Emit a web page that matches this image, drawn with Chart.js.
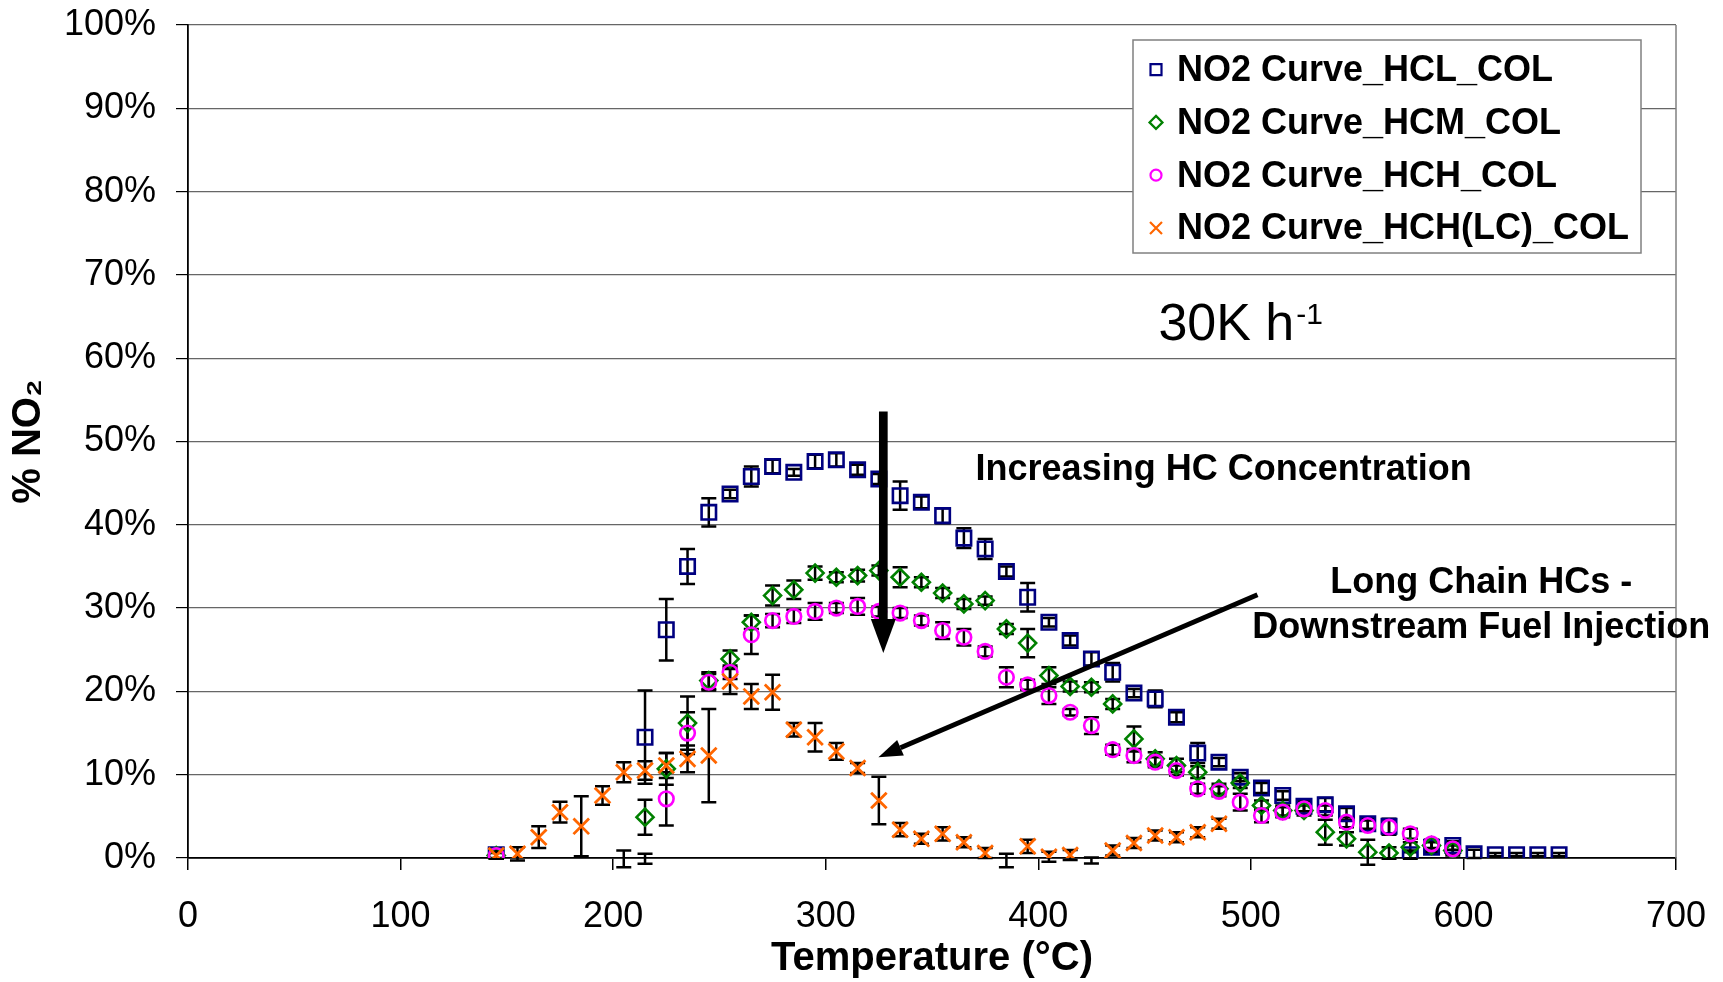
<!DOCTYPE html>
<html lang="en">
<head>
<meta charset="UTF-8">
<title>NO2 Curves</title>
<style>
  html, body { margin: 0; padding: 0; background: #fff; }
  canvas { display: block; }
</style>
</head>
<body>
<canvas id="grafico" width="1723" height="982"></canvas>
<script src="https://cdn.jsdelivr.net/npm/chart.js"></script>
<script>
// temperaturas (oC)
const temperaturas = [145, 155, 165, 175, 185, 195, 205, 215, 225, 235,
  245, 255, 265, 275, 285, 295, 305, 315, 325, 335,
  345, 355, 365, 375, 385, 395, 405, 415, 425, 435,
  445, 455, 465, 475, 485, 495, 505, 515, 525, 535,
  545, 555, 565, 575, 585, 595, 605, 615, 625, 635,
  645]

// % NO2 por serie
const hcl = [0.4, null, null, null, null, null, -0.1, 14.5, 27.4, 35.0,
  41.5, 43.7, 45.8, 47.0, 46.3, 47.6, 47.8, 46.6, 45.5, 43.5,
  42.7, 41.1, 38.4, 37.1, 34.4, 31.3, 28.3, 26.1, 23.9, 22.3,
  19.8, 19.1, 16.9, 12.6, 11.5, 9.7, 8.4, 7.5, 6.2, 6.4,
  5.3, 4.1, 3.8, 0.4, 1.3, 1.5, 0.5, 0.4, 0.4, 0.4,
  0.4]
const hclErr = [0.5, null, null, null, null, null, 1.0, 5.6, 3.7, 2.1,
  1.7, 0.5, 1.2, 0.8, 0.4, 0.8, 0.8, 0.6, 0.6, 1.7,
  0.7, 0.9, 1.2, 1.2, 0.6, 1.7, 0.5, 0.6, 0.8, 1.1,
  0.5, 1.0, 0.6, 1.2, 0.5, 0.5, 0.6, 0.5, 0.6, 0.8,
  0.7, 0.6, 0.9, 0.5, 0.6, 0.5, 0.5, 0.2, 0.2, 0.2,
  0.2]

const hcm = [0.3, null, null, null, null, null, null, 4.9, 10.7, 16.2,
  21.3, 23.9, 28.3, 31.5, 32.2, 34.2, 33.7, 33.9, 34.5, 33.7,
  33.1, 31.8, 30.5, 30.9, 27.5, 25.8, 21.9, 20.6, 20.5, 18.5,
  14.3, 11.9, 11.1, 10.3, 8.3, 9.0, 6.3, 5.7, 5.7, 3.1,
  2.3, 0.7, 0.6, 1.3, 1.5, 0.9, null, null, null, null,
  null]
const hcmErr = [0.4, null, null, null, null, null, null, 2.1, 1.9, 3.2,
  1.0, 1.0, 0.8, 1.2, 1.1, 0.8, 0.6, 0.7, 0.6, 1.2,
  0.6, 0.6, 0.6, 0.5, 0.6, 1.7, 1.0, 0.6, 0.6, 0.6,
  1.5, 0.8, 0.8, 0.7, 0.6, 0.6, 0.6, 0.6, 0.6, 1.5,
  0.8, 1.5, 0.7, 0.6, 0.6, 0.6, null, null, null, null,
  null]

const hch = [0.3, null, null, null, null, null, null, -0.1, 7.1, 15.0,
  21.1, 22.3, 26.8, 28.5, 29.0, 29.6, 30.0, 30.2, 29.6, 29.4,
  28.5, 27.3, 26.5, 24.8, 21.7, 20.8, 19.5, 17.5, 15.9, 13.0,
  12.3, 11.5, 10.5, 8.3, 8.0, 6.7, 5.1, 5.5, 5.9, 5.7,
  4.3, 3.9, 3.7, 2.9, 1.7, 1.1, null, null, null, null,
  null]
const hchErr = [0.3, null, null, null, null, null, null, 0.6, 3.2, 2.5,
  1.0, 0.8, 2.3, 0.8, 0.8, 1.0, 0.6, 1.0, 0.6, 0.6,
  0.6, 1.0, 1.0, 0.6, 1.2, 0.6, 1.0, 0.4, 1.0, 0.6,
  0.8, 0.6, 0.6, 0.6, 0.6, 1.0, 0.8, 0.6, 0.6, 0.6,
  0.6, 0.6, 0.9, 0.6, 0.5, 0.6, null, null, null, null,
  null]

const hchLc = [0.3, 0.5, 2.5, 5.5, 3.8, 7.5, 10.3, 10.5, 11.1, 11.9,
  12.3, 21.2, 19.4, 19.9, 15.4, 14.5, 12.8, 10.8, 6.9, 3.4,
  2.3, 2.9, 1.9, 0.6, -0.3, 1.4, 0.15, 0.35, -0.3, 0.9,
  1.8, 2.7, 2.5, 3.1, 4.1, null, null, null, null, null,
  null, null, null, null, null, null, null, null, null, null,
  null]
const hchLcErr = [0.4, 0.8, 1.3, 1.25, 3.6, 1.1, 1.2, 1.1, 1.5, 1.6,
  5.6, 1.5, 1.5, 2.1, 0.8, 1.7, 1.0, 0.6, 2.85, 0.8,
  0.6, 0.8, 0.6, 0.6, 0.8, 0.8, 0.6, 0.6, 0.35, 0.6,
  0.6, 0.6, 0.6, 0.6, 0.6, null, null, null, null, null,
  null, null, null, null, null, null, null, null, null, null,
  null]

const xTicks = [0, 100, 200, 300, 400, 500, 600, 700]
const yTicks = [0, 10, 20, 30, 40, 50, 60, 70, 80, 90, 100]

const fonte = 'Liberation Sans, Arial, sans-serif'
Chart.defaults.font.family = fonte
Chart.defaults.color = '#000'

const pontos = (vals, errs) => temperaturas
  .map((t, i) => ({ x: t, y: vals[i], err: errs[i] }))
  .filter(p => p.y !== null)

// marcador escondido quando o valor fica abaixo do eixo
const raio = r => ctx => (ctx.raw && ctx.raw.y < 0) ? 0 : r

const series = [
  { label: 'NO2 Curve_HCL_COL', data: pontos(hcl, hclErr), cor: '#000080', estilo: 'rect', r: 10.2, ordem: 3 },
  { label: 'NO2 Curve_HCM_COL', data: pontos(hcm, hcmErr), cor: '#008000', estilo: 'rectRot', r: 8.5, ordem: 2 },
  { label: 'NO2 Curve_HCH_COL', data: pontos(hch, hchErr), cor: '#FF00FF', estilo: 'circle', r: 7.3, ordem: 1 },
  { label: 'NO2 Curve_HCH(LC)_COL', data: pontos(hchLc, hchLcErr), cor: '#FF6600', estilo: 'crossRot', r: 11, ordem: 0 }
]

const barrasErro = {
  id: 'barrasErro',
  beforeDatasetsDraw(chart) {
    const { ctx, scales: { x, y } } = chart
    ctx.save()
    ctx.strokeStyle = '#000'
    ctx.lineWidth = 2.5
    chart.data.datasets.forEach(ds => {
      ds.data.forEach(p => {
        if (p.err == null) return
        const px = x.getPixelForValue(p.x)
        const topo = y.getPixelForValue(p.y + p.err)
        const base = y.getPixelForValue(p.y - p.err)
        ctx.beginPath()
        ctx.moveTo(px, topo); ctx.lineTo(px, base)
        ctx.moveTo(px - 7.5, topo); ctx.lineTo(px + 7.5, topo)
        ctx.moveTo(px - 7.5, base); ctx.lineTo(px + 7.5, base)
        ctx.stroke()
      })
    })
    ctx.restore()
  }
}

function seta(ctx, x1, y1, x2, y2, largura, cabeca, abertura) {
  const ang = Math.atan2(y2 - y1, x2 - x1)
  const bx = x2 - Math.cos(ang) * cabeca
  const by = y2 - Math.sin(ang) * cabeca
  ctx.lineWidth = largura
  ctx.beginPath()
  ctx.moveTo(x1, y1)
  ctx.lineTo(bx, by)
  ctx.stroke()
  ctx.beginPath()
  ctx.moveTo(x2, y2)
  ctx.lineTo(bx + Math.sin(ang) * abertura / 2, by - Math.cos(ang) * abertura / 2)
  ctx.lineTo(bx - Math.sin(ang) * abertura / 2, by + Math.cos(ang) * abertura / 2)
  ctx.closePath()
  ctx.fill()
}

function marcador(ctx, estilo, x, y) {
  ctx.beginPath()
  if (estilo === 'rect') {
    ctx.rect(x - 5.5, y - 5.5, 11, 11)
  } else if (estilo === 'rectRot') {
    ctx.moveTo(x, y - 6.5); ctx.lineTo(x + 6.5, y); ctx.lineTo(x, y + 6.5); ctx.lineTo(x - 6.5, y); ctx.closePath()
  } else if (estilo === 'circle') {
    ctx.arc(x, y, 5.5, 0, Math.PI * 2)
  } else {
    ctx.moveTo(x - 6, y - 6); ctx.lineTo(x + 6, y + 6)
    ctx.moveTo(x + 6, y - 6); ctx.lineTo(x - 6, y + 6)
  }
  ctx.stroke()
}

const anotacoes = {
  id: 'anotacoes',
  afterDatasetsDraw(chart) {
    const { ctx, chartArea: a, scales: { x, y } } = chart
    ctx.save()

    // borda direita da area do grafico
    ctx.strokeStyle = '#808080'
    ctx.lineWidth = 1.5
    ctx.beginPath()
    ctx.moveTo(a.right, a.top)
    ctx.lineTo(a.right, a.bottom)
    ctx.stroke()

    // setas
    ctx.strokeStyle = '#000'
    ctx.fillStyle = '#000'
    seta(ctx, x.getPixelForValue(327.1), y.getPixelForValue(53.6),
      x.getPixelForValue(327.1), y.getPixelForValue(24.6), 8.7, 34, 25)
    seta(ctx, x.getPixelForValue(503.1), y.getPixelForValue(31.6),
      x.getPixelForValue(324.8), y.getPixelForValue(12.1), 5, 24, 17)

    // textos
    ctx.fillStyle = '#000'
    ctx.textBaseline = 'alphabetic'
    ctx.font = 'bold 36px ' + fonte
    ctx.textAlign = 'left'
    ctx.fillText('Increasing HC Concentration', x.getPixelForValue(370.5), y.getPixelForValue(45.4))
    ctx.textAlign = 'center'
    ctx.fillText('Long Chain HCs -', x.getPixelForValue(608.4), y.getPixelForValue(31.8))
    ctx.fillText('Downstream Fuel Injection', x.getPixelForValue(608.4), y.getPixelForValue(26.4))

    ctx.textAlign = 'left'
    ctx.font = '52px ' + fonte
    const vx = x.getPixelForValue(456.5)
    const vy = y.getPixelForValue(62.2)
    ctx.fillText('30K h', vx, vy)
    const w = ctx.measureText('30K h').width
    ctx.font = '30px ' + fonte
    ctx.fillText('-1', vx + w + 2, vy - 16)

    // legenda
    const lx = a.right - 543, ly = a.top + 15, lw = 508, lh = 213
    ctx.fillStyle = '#fff'
    ctx.fillRect(lx, ly, lw, lh)
    ctx.strokeStyle = '#808080'
    ctx.lineWidth = 1.5
    ctx.strokeRect(lx, ly, lw, lh)
    ctx.font = 'bold 36px ' + fonte
    series.forEach((s, i) => {
      const by = ly + 41 + i * 52.8
      ctx.strokeStyle = s.cor
      ctx.lineWidth = 2.2
      marcador(ctx, s.estilo, lx + 23, by - 11.4)
      ctx.fillStyle = '#000'
      ctx.fillText(s.label, lx + 44, by)
    })
    ctx.restore()
  }
}

new Chart(document.getElementById('grafico'), {
  type: 'scatter',
  data: {
    datasets: series.map(s => ({
      label: s.label,
      data: s.data,
      order: s.ordem,
      pointStyle: s.estilo,
      pointRadius: raio(s.r),
      pointBorderColor: s.cor,
      pointBackgroundColor: 'rgba(0,0,0,0)',
      pointBorderWidth: s.estilo === 'crossRot' ? 2.8 : 2.6,
      borderColor: s.cor,
      showLine: false
    }))
  },
  options: {
    responsive: false,
    devicePixelRatio: 1,
    animation: false,
    events: [],
    layout: { padding: { top: 25, right: 47, left: 0, bottom: 0 } },
    plugins: { legend: { display: false }, tooltip: { enabled: false } },
    scales: {
      x: {
        type: 'linear',
        min: 0,
        max: 700,
        afterBuildTicks: s => { s.ticks = xTicks.map(v => ({ value: v })) },
        afterFit: s => { s.height = 124; s.paddingLeft = 0; s.paddingRight = 0 },
        grid: { drawOnChartArea: false, color: '#000', tickLength: 12, lineWidth: 1.5 },
        border: { color: '#000', width: 1.8 },
        ticks: { font: { size: 36 }, padding: 25, maxRotation: 0 },
        title: {
          display: true,
          text: 'Temperature (°C)',
          font: { size: 40, weight: 'bold', lineHeight: 1.13 },
          padding: { top: 0, bottom: 0 }
        }
      },
      y: {
        min: 0,
        max: 100,
        afterBuildTicks: s => { s.ticks = yTicks.map(v => ({ value: v })) },
        afterFit: s => { s.width = 188; s.paddingTop = 0; s.paddingBottom = 0 },
        grid: { color: '#666', lineWidth: 1.2, tickColor: '#000', tickLength: 12 },
        border: { color: '#000', width: 1.8 },
        ticks: { font: { size: 36 }, padding: 20, callback: v => v + '%' },
        title: {
          display: true,
          text: '% NO₂',
          font: { size: 40, weight: 'bold', lineHeight: 1.2 },
          padding: { top: 5, bottom: 0 }
        }
      }
    }
  },
  plugins: [barrasErro, anotacoes]
})
</script>
</body>
</html>
